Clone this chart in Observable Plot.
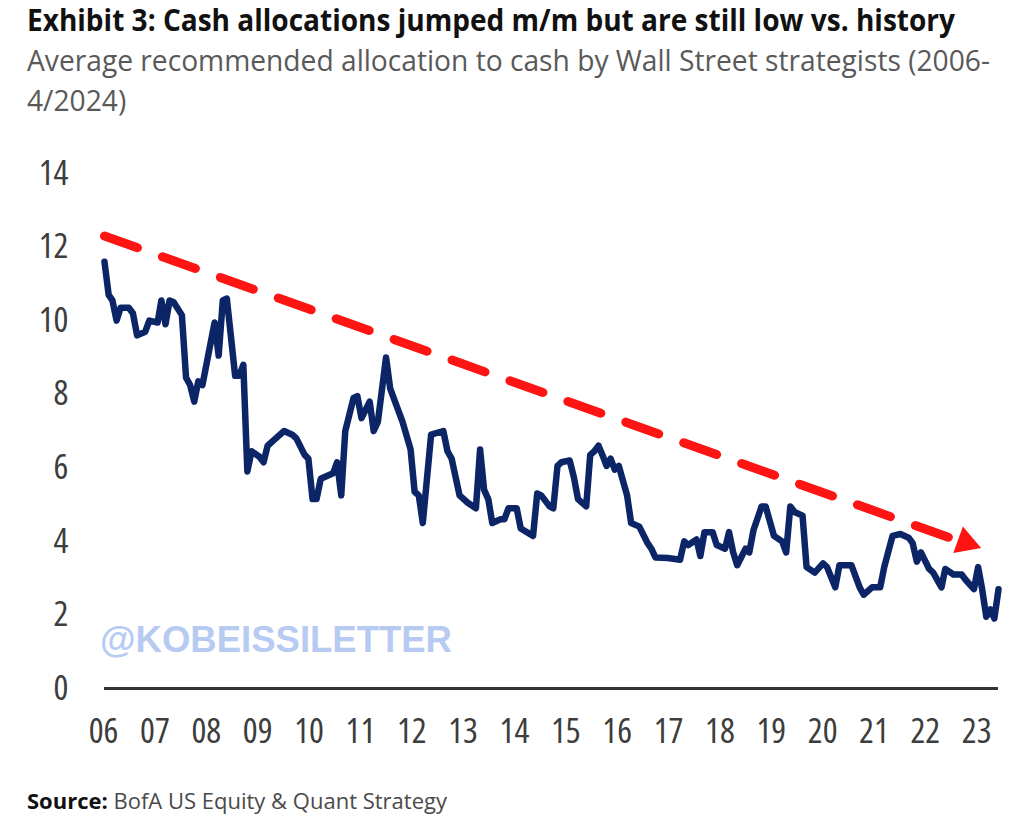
<!DOCTYPE html>
<html><head><meta charset="utf-8">
<script src="https://cdn.jsdelivr.net/npm/d3@7"></script>
<script src="https://cdn.jsdelivr.net/npm/@observablehq/plot@0.6"></script>
<style>
html,body{margin:0;padding:0;background:#fff;}
body{width:1024px;height:828px;position:relative;overflow:hidden;font-family:"Open Sans",sans-serif;}
.t{position:absolute;white-space:nowrap;}
.t span{display:inline-block;transform-origin:0 50%;}
#title{left:27px;top:1px;font-size:31px;line-height:36px;font-weight:700;color:#111;}
#sub{left:27px;top:40px;font-size:30px;font-weight:400;color:#595959;line-height:40px;}
#src{left:27px;top:785px;font-size:22px;color:#4a4a4a;}
#src b{color:#111;}
#wm{left:100px;top:619px;font-family:"Liberation Sans",Arial,sans-serif;font-weight:700;font-size:36.5px;color:#b7cbf2;}
#chart{position:absolute;left:0;top:130px;}
#chart svg text{font-stretch:75%;}
</style></head>
<body>
<div class="t" id="title"><span id="titleLine">Exhibit 3: Cash allocations jumped m/m but are still low vs. history</span></div>
<div class="t" id="sub"><span id="subLine">Average recommended allocation to cash by Wall Street strategists (2006-</span><br><span id="subLine2">4/2024)</span></div>
<div id="chart"></div>
<div class="t" id="wm">@KOBEISSILETTER</div>
<div class="t" id="src"><span id="srcLine"><b>Source:</b> BofA US Equity &amp; Quant Strategy</span></div>
<script>
const months = [
"2006-01","2006-02","2006-03","2006-04","2006-05","2006-07","2006-08","2006-09","2006-11","2006-12",
"2007-02","2007-03","2007-04","2007-05","2007-06","2007-08","2007-09","2007-10","2007-11","2007-12",
"2008-01","2008-04","2008-05","2008-06","2008-07","2008-08","2008-09","2008-10","2008-11","2008-12",
"2009-01","2009-03","2009-04","2009-05","2009-07","2009-09","2009-11","2009-12",
"2010-02","2010-03","2010-04","2010-05","2010-06","2010-09","2010-10","2010-11","2010-12",
"2011-02","2011-03","2011-04","2011-06","2011-07","2011-08","2011-10","2011-11",
"2012-02","2012-04","2012-05","2012-06","2012-07","2012-09","2012-12",
"2013-01","2013-02","2013-04","2013-06","2013-08","2013-09","2013-10","2013-11","2013-12",
"2014-02","2014-03","2014-04","2014-06","2014-07","2014-10","2014-11","2014-12",
"2015-02","2015-03","2015-04","2015-05","2015-07","2015-08","2015-09","2015-11","2015-12",
"2016-01","2016-02","2016-03","2016-04","2016-05","2016-06","2016-07","2016-09","2016-10","2016-12",
"2017-02","2017-03","2017-04","2017-07","2017-10","2017-11","2017-12",
"2018-02","2018-03","2018-04","2018-06","2018-07","2018-09","2018-10","2018-11","2018-12",
"2019-02","2019-03","2019-04","2019-06","2019-07","2019-09","2019-11","2019-12",
"2020-01","2020-02","2020-04","2020-05","2020-07","2020-09","2020-10","2020-12",
"2021-01","2021-04","2021-06","2021-07","2021-09","2021-11","2021-12",
"2022-02","2022-04","2022-06","2022-07","2022-08","2022-09","2022-11","2022-12",
"2023-02","2023-03","2023-05","2023-07","2023-08","2023-10","2023-11","2023-12",
"2024-01","2024-02","2024-03","2024-04"];
const cashAllocation = [
11.6,10.7,10.55,10.0,10.35,10.35,10.2,9.6,9.7,10.0,
9.95,10.55,9.9,10.55,10.5,10.15,8.45,8.25,7.8,8.35,
8.25,9.95,9.05,10.55,10.6,9.55,8.5,8.5,8.8,5.9,
6.45,6.3,6.15,6.6,6.8,7.0,6.9,6.8,
6.35,6.25,5.15,5.15,5.7,5.85,6.15,5.25,7.0,
7.9,7.95,7.35,7.8,7.0,7.25,9.0,8.15,
7.25,6.5,5.35,5.25,4.5,6.9,7.0,
6.45,6.25,5.25,5.05,4.9,6.5,5.4,5.15,4.5,
4.6,4.6,4.9,4.9,4.35,4.15,5.3,5.25,
4.95,4.9,6.05,6.15,6.2,5.75,5.15,4.95,6.35,
6.45,6.6,6.35,6.05,6.25,5.95,6.05,5.25,4.5,4.4,
3.95,3.8,3.56,3.55,3.5,4.0,3.9,
4.05,3.6,4.25,4.25,3.9,3.8,4.25,3.7,3.35,
3.8,3.7,4.3,4.95,4.95,4.15,4.0,3.7,
4.95,4.8,4.7,3.3,3.15,3.4,3.3,2.75,
3.35,3.35,2.75,2.55,2.75,2.75,3.3,
4.15,4.2,4.1,3.95,3.45,3.7,3.25,3.15,
2.75,3.25,3.1,3.1,2.95,2.7,3.3,2.7,
1.95,2.15,1.9,2.7];

// Downward trend annotation (red dashed arrow)
const trendMonths = ["2006-01", "2023-04"];
const trendValues = [12.3, 4.1];
const arrowHeadMonth = "2023-08";
const arrowHeadValue = 3.97;

const yTicks = [0, 2, 4, 6, 8, 10, 12, 14];
const xLabels = ["06","07","08","09","10","11","12","13","14","15","16","17","18","19","20","21","22","23"];

// squeeze the header/footer lines horizontally to the widths seen in the original
function fitWidth(el, target, others) {
  const w = el.getBoundingClientRect().width;
  const s = target / w;
  [el, ...(others || [])].forEach(e => e.style.transform = `scaleX(${s})`);
}
fitWidth(document.getElementById("titleLine"), 928);
fitWidth(document.getElementById("subLine"), 963, [document.getElementById("subLine2")]);
fitWidth(document.getElementById("srcLine"), 420);

const parse = d3.utcParse("%Y-%m");
const series = months.map((m, i) => ({date: parse(m), value: cashAllocation[i]}));
const trend = trendMonths.map((m, i) => ({date: parse(m), value: trendValues[i]}));
const head = [{date: parse(arrowHeadMonth), value: arrowHeadValue}];

const x0 = parse("2006-01"), x1 = parse("2024-04");
// category labels are evenly spaced along the axis (slightly wider than one year each)
const labelStep = 0.05745;
const span = x1 - x0;
const xTicks = xLabels.map((l, k) => new Date(+x0 + span * (k * labelStep - 0.001)));
const labelOf = new Map(xTicks.map((d, k) => [+d, xLabels[k]]));

const chart = Plot.plot({
  width: 1024, height: 630,
  marginLeft: 104, marginRight: 26, marginTop: 43, marginBottom: 72,
  x: {type: "utc", domain: [x0, x1]},
  y: {domain: [0, 14]},
  style: {fontFamily: "'Open Sans', sans-serif", fontSize: "35px", color: "#3d3d3d", background: "transparent", overflow: "visible"},
  marks: [
    Plot.axisY({ticks: yTicks, tickSize: 0, tickPadding: 36, label: null}),
    Plot.axisX({ticks: xTicks, tickSize: 0, tickPadding: 30, label: null, tickFormat: d => labelOf.get(+d)}),
    Plot.ruleY([0], {stroke: "#333", strokeWidth: 3}),
    Plot.line(trend, {x: "date", y: "value", stroke: "#ff1414", strokeWidth: 9, strokeDasharray: "35,26.5"}),
    Plot.dot(head, {x: "date", y: "value", symbol: "triangle", r: 10.5, fill: "#ff1414", stroke: "none", rotate: 110}),
    Plot.line(series, {x: "date", y: "value", stroke: "#0b2566", strokeWidth: 6.5, strokeLinejoin: "round", strokeLinecap: "round"})
  ]
});
document.getElementById("chart").appendChild(chart);
</script>
</body></html>
